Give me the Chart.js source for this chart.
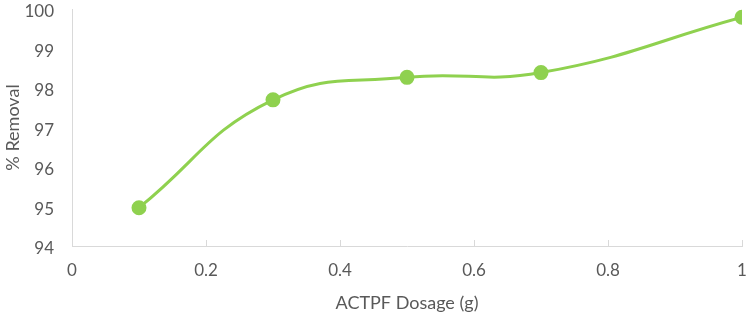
<!DOCTYPE html>
<html>
<head>
<meta charset="utf-8">
<script src="https://cdn.jsdelivr.net/npm/chart.js@4"></script>
<style>
  html, body { margin: 0; padding: 0; background: #fff; }
  #wrap { width: 751px; height: 314px; }
</style>
</head>
<body>
<div id="wrap"><canvas id="removalChart" width="751" height="314"></canvas></div>
<script>
// dosage (g) vs % removal
const dosage = [0.1, 0.3, 0.5, 0.7, 1.0];
const removal = [94.97, 97.7, 98.27, 98.39, 99.79];
const xTicks = [0, 0.2, 0.4, 0.6, 0.8, 1];
const yTicks = [94, 95, 96, 97, 98, 99, 100];

const green = '#8fd14f';
const textGrey = '#595959';
const axisGrey = '#d9d9d9';
const tickFont = { family: 'Lato, "Open Sans", sans-serif', size: 17 };
const titleFont = { family: 'Lato, "Open Sans", sans-serif', size: 18 };

// small inward tick marks on the x axis, like the original
const innerTicks = {
    id: 'innerTicks',
    beforeDatasetsDraw(chart) {
        const x = chart.scales.x, y = chart.scales.y;
        const c = chart.ctx;
        c.save();
        c.strokeStyle = axisGrey;
        c.lineWidth = 1;
        xTicks.forEach(v => {
            const px = Math.round(x.getPixelForValue(v)) + 0.5;
            c.beginPath();
            c.moveTo(px, y.bottom);
            c.lineTo(px, y.bottom - 6);
            c.stroke();
        });
        c.restore();
    }
};

new Chart(document.getElementById('removalChart'), {
    type: 'scatter',
    data: {
        datasets: [{
            data: dosage.map((d, i) => ({ x: d, y: removal[i] })),
            showLine: true,
            borderColor: green,
            backgroundColor: green,
            borderWidth: 3,
            pointRadius: 6,
            pointHoverRadius: 6,
            tension: 0.45
        }]
    },
    options: {
        responsive: false,
        animation: false,
        layout: { padding: { left: 2, right: 4, top: 4, bottom: 0 } },
        plugins: { legend: { display: false }, tooltip: { enabled: false } },
        scales: {
            x: {
                type: 'linear',
                min: 0, max: 1,
                afterBuildTicks: s => { s.ticks = xTicks.map(v => ({ value: v })); },
                afterFit: s => { s.height = 68; s.paddingLeft = 0; s.paddingRight = 0; },
                grid: { display: true, drawOnChartArea: false, drawTicks: false },
                border: { display: true, color: axisGrey },
                ticks: { color: textGrey, font: tickFont, padding: 14, maxRotation: 0,
                         callback: v => String(v) },
                title: { display: true, text: 'ACTPF Dosage (g)', color: textGrey, font: titleFont, padding: { top: 4, bottom: 0 } }
            },
            y: {
                min: 94, max: 100,
                afterBuildTicks: s => { s.ticks = yTicks.map(v => ({ value: v })); },
                afterFit: s => { s.width = 70; s.paddingTop = 0; s.paddingBottom = 0; },
                grid: { display: true, drawOnChartArea: false, drawTicks: false },
                border: { display: true, color: axisGrey },
                ticks: { color: textGrey, font: tickFont, padding: 18, labelOffset: 3 },
                title: { display: true, text: '% Removal', color: textGrey, font: titleFont, padding: { top: 0, bottom: 0 } }
            }
        }
    },
    plugins: [innerTicks]
});
</script>
</body>
</html>
